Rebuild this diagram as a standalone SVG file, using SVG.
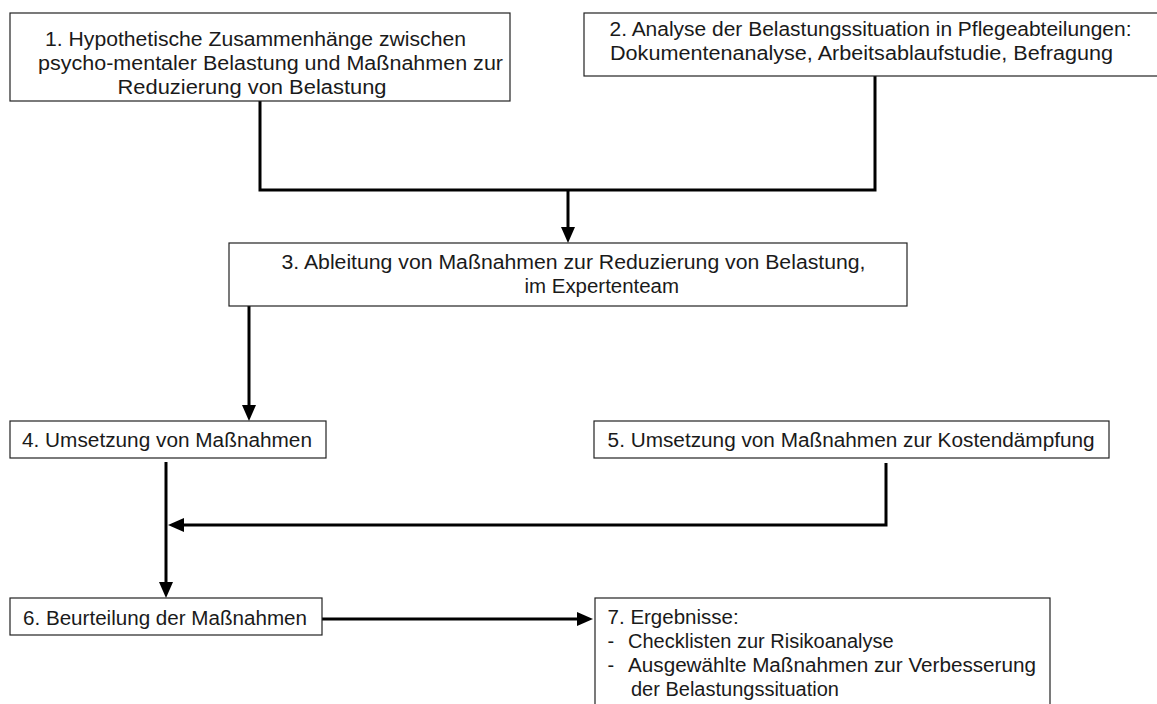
<svg xmlns="http://www.w3.org/2000/svg" width="1157" height="704" viewBox="0 0 1157 704">
  <style>
    .box { fill: #ffffff; stroke: #222222; stroke-width: 1.2; }
    .t { font-family: "Liberation Sans", Arial, sans-serif; font-size: 20px; fill: #1a1a1a; }
    .conn { fill: none; stroke: #000000; stroke-width: 3; stroke-linejoin: miter; }
  </style>
  <defs>
    <marker id="arrow" viewBox="0 0 16 14" refX="0" refY="7" markerWidth="16" markerHeight="14" markerUnits="userSpaceOnUse" orient="auto">
      <path d="M0,0 L16,7 L0,14 z" fill="#000000"/>
    </marker>
  </defs>
  <rect width="1157" height="704" fill="#ffffff"/>

  <g id="connectors">
    <path class="conn" d="M260 101 V190 H875 V76"/>
    <path class="conn" d="M568 190 V227" marker-end="url(#arrow)"/>
    <path class="conn" d="M249 306 V405" marker-end="url(#arrow)"/>
    <path class="conn" d="M166 462 V582" marker-end="url(#arrow)"/>
    <path class="conn" d="M886 463 V525 H184" marker-end="url(#arrow)"/>
    <path class="conn" d="M322 619 H577" marker-end="url(#arrow)"/>
  </g>

  <g id="node1">
    <rect class="box" x="10" y="13" width="500" height="88"/>
    <text class="t" x="45" y="45.5" textLength="421" lengthAdjust="spacingAndGlyphs">1. Hypothetische Zusammenhänge zwischen</text>
    <text class="t" x="38" y="69.5" textLength="465" lengthAdjust="spacingAndGlyphs">psycho-mentaler Belastung und Maßnahmen zur</text>
    <text class="t" x="117.5" y="93.5" textLength="269" lengthAdjust="spacingAndGlyphs">Reduzierung von Belastung</text>
  </g>

  <g id="node2">
    <rect class="box" x="584" y="13" width="590" height="63"/>
    <text class="t" x="609.5" y="36" textLength="522" lengthAdjust="spacingAndGlyphs">2. Analyse der Belastungssituation in Pflegeabteilungen:</text>
    <text class="t" x="610" y="60" textLength="503" lengthAdjust="spacingAndGlyphs">Dokumentenanalyse, Arbeitsablaufstudie, Befragung</text>
  </g>

  <g id="node3">
    <rect class="box" x="229" y="243" width="678" height="63"/>
    <text class="t" x="281.5" y="269" textLength="584" lengthAdjust="spacingAndGlyphs">3. Ableitung von Maßnahmen zur Reduzierung von Belastung,</text>
    <text class="t" x="524.5" y="293" textLength="154.5" lengthAdjust="spacingAndGlyphs">im Expertenteam</text>
  </g>

  <g id="node4">
    <rect class="box" x="10" y="421" width="316" height="37"/>
    <text class="t" x="22" y="447" textLength="290" lengthAdjust="spacingAndGlyphs">4. Umsetzung von Maßnahmen</text>
  </g>

  <g id="node5">
    <rect class="box" x="594" y="421" width="515" height="37"/>
    <text class="t" x="607.6" y="447" textLength="487" lengthAdjust="spacingAndGlyphs">5. Umsetzung von Maßnahmen zur Kostendämpfung</text>
  </g>

  <g id="node6">
    <rect class="box" x="10" y="598" width="312" height="37"/>
    <text class="t" x="23" y="625" textLength="284" lengthAdjust="spacingAndGlyphs">6. Beurteilung der Maßnahmen</text>
  </g>

  <g id="node7">
    <rect class="box" x="595" y="598" width="455" height="120"/>
    <text class="t" x="607.6" y="624" textLength="131" lengthAdjust="spacingAndGlyphs">7. Ergebnisse:</text>
    <text class="t" x="607.6" y="648">-</text>
    <text class="t" x="628" y="648">Checklisten zur Risikoanalyse</text>
    <text class="t" x="607.6" y="672">-</text>
    <text class="t" x="628" y="672" textLength="408" lengthAdjust="spacingAndGlyphs">Ausgewählte Maßnahmen zur Verbesserung</text>
    <text class="t" x="631" y="696">der Belastungssituation</text>
  </g>
</svg>
